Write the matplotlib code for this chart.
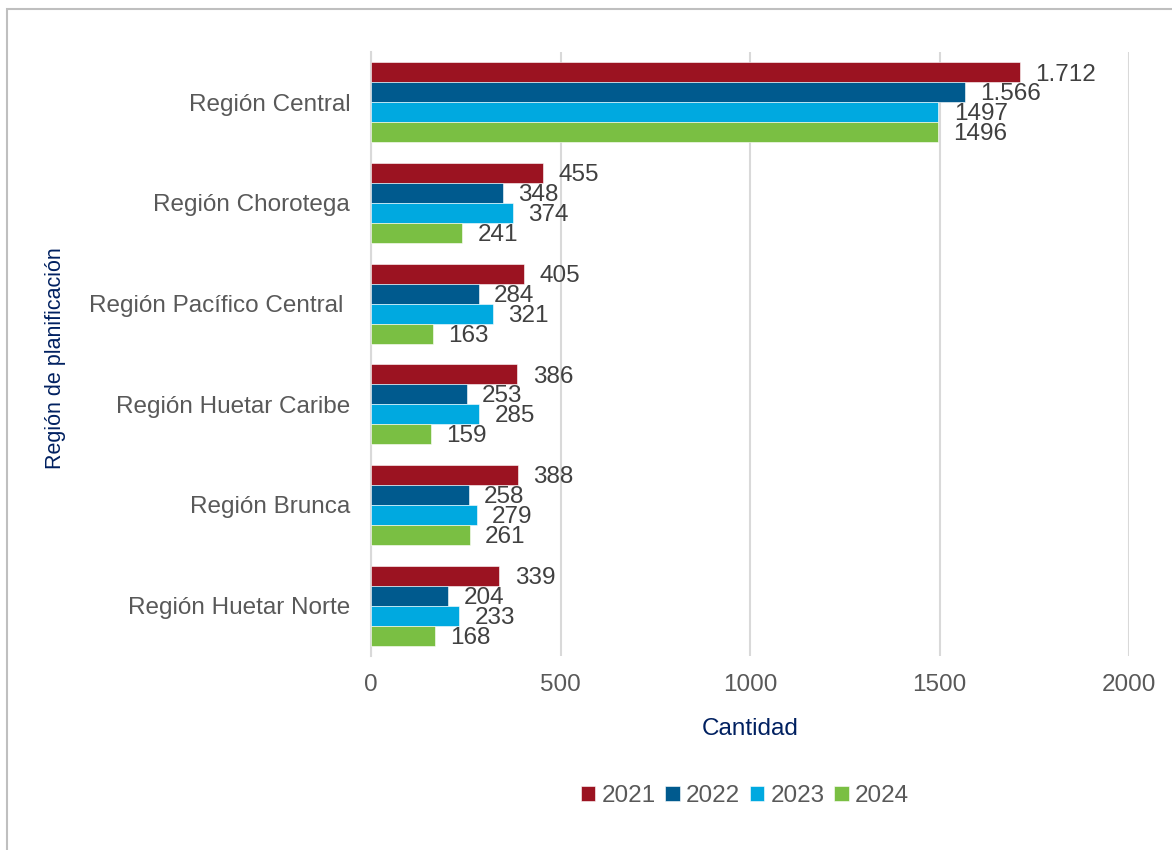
import matplotlib
matplotlib.use("Agg")
import matplotlib.pyplot as plt
import numpy as np
from matplotlib.patches import Rectangle

plt.rcParams['font.family'] = ['Liberation Sans', 'DejaVu Sans']

regions = ["Región Central", "Región Chorotega", "Región Pacífico Central ",
           "Región Huetar Caribe", "Región Brunca", "Región Huetar Norte"]
years = ["2021", "2022", "2023", "2024"]
v2021 = [1712, 455, 405, 386, 388, 339]
v2022 = [1566, 348, 284, 253, 258, 204]
v2023 = [1497, 374, 321, 285, 279, 233]
v2024 = [1496, 241, 163, 159, 261, 168]
labels2021 = ["1.712", "455", "405", "386", "388", "339"]
labels2022 = ["1.566", "348", "284", "253", "258", "204"]
labels2023 = ["1497", "374", "321", "285", "279", "233"]
labels2024 = ["1496", "241", "163", "159", "261", "168"]
xticks = [0, 500, 1000, 1500, 2000]

series = [v2021, v2022, v2023, v2024]
series_labels = [labels2021, labels2022, labels2023, labels2024]
colors = ["#9B1321", "#005A8E", "#00A9E0", "#7ABF43"]

FS = 17.5

fig = plt.figure(figsize=(11.72, 8.5), dpi=100)
fig.patches.append(Rectangle((7/1172, -0.01), 1.1, 1 - 9/850 + 0.01,
                             transform=fig.transFigure, fill=False,
                             edgecolor="#BFBFBF", linewidth=1.5))
ax = fig.add_axes([371/1172, 1 - 656/850, 758/1172, 604/850])

n = len(regions)
bh = 0.198
y = np.arange(n)
for i, (vals, labs, c) in enumerate(zip(series, series_labels, colors)):
    pos = y - 1.5 * bh + i * bh
    bars = ax.barh(pos, vals, height=bh, color=c, label=years[i],
                   edgecolor="white", linewidth=0.4, zorder=3)
    for b, lab in zip(bars, labs):
        ax.annotate(lab, (b.get_width(), b.get_y() + b.get_height() / 2),
                    xytext=(11, -1.5), textcoords="offset points",
                    ha="left", va="center", fontsize=FS, color="#404040",
                    zorder=4)

ax.set_ylim(n - 0.5, -0.5)
ax.set_xlim(0, 2000)
ax.set_xticks(xticks)
ax.set_xticklabels([str(t) for t in xticks])
ax.set_yticks(y)
ax.set_yticklabels(regions)
ax.tick_params(axis="both", length=0, labelsize=FS, labelcolor="#595959")
ax.tick_params(axis="x", pad=13)
ax.tick_params(axis="y", pad=15)
ax.grid(axis="x", color="#D9D9D9", linewidth=1.5, zorder=0)
for s in ["top", "right", "bottom"]:
    ax.spines[s].set_visible(False)
ax.spines["left"].set_color("#D9D9D9")
ax.spines["left"].set_linewidth(1.5)

ax.set_xlabel("Cantidad", fontsize=FS, color="#002060", labelpad=16)
fig.text(55/1172, 1 - 358/850, "Región de planificación", rotation=90,
         fontsize=15.5, color="#002060", ha="center", va="center")

handles, lbls = ax.get_legend_handles_labels()
fig.legend(handles, lbls, loc="center", bbox_to_anchor=(745/1172, 1 - 796/850),
           ncol=4, frameon=False, fontsize=FS, labelcolor="#595959",
           handlelength=0.6, handleheight=0.6, handletextpad=0.25,
           columnspacing=0.4)

fig.savefig("out.png", dpi=100, facecolor="white")
